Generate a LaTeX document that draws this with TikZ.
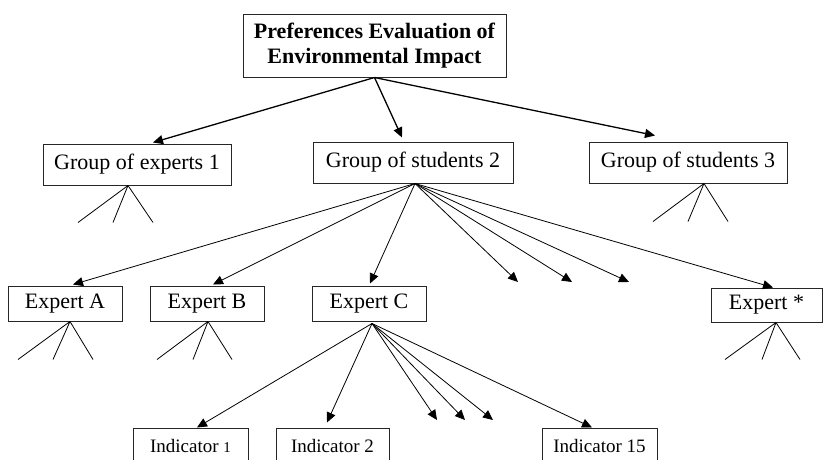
\documentclass[tikz,border=0pt]{standalone}
\usepackage{fontspec}
\setmainfont{Liberation Serif}
\usetikzlibrary{arrows.meta}
\begin{document}
\begin{tikzpicture}[x=1pt,y=-1pt,
  box/.style={draw=black!85,line width=1pt,inner sep=0pt,
    font=\fontsize{22}{25}\selectfont},
  indbox/.style={draw=black!85,line width=1pt,inner sep=0pt,
    font=\fontsize{19}{22}\selectfont,minimum width=115pt,minimum height=36pt},
  bigarr/.style={line width=1.3pt,-{Triangle[length=10pt,width=9pt]}},
  arr/.style={line width=0.8pt,-{Triangle[length=10pt,width=9pt]}},
  fork/.style={line width=0.8pt}]
\useasboundingbox (0,0) rectangle (823,459);
\clip (0,0) rectangle (823,459);

% root
\node[box,font=\fontsize{22}{25}\selectfont\bfseries,align=center,
  minimum width=263pt,minimum height=63pt] (top) at (374.5,45.5)
  {Preferences Evaluation of\\Environmental Impact};

% groups
\node[box,minimum width=188pt,minimum height=41pt] (g1) at (137,164.5) {Group of experts 1};
\node[box,minimum width=200pt,minimum height=41pt] (g2) at (413,162.5) {Group of students 2};
\node[box,minimum width=198pt,minimum height=41pt] (g3) at (688,162.5) {Group of students 3};

% experts
\node[box,minimum width=114pt,minimum height=35pt] (ea) at (65,303.5) {Expert A};
\node[box,minimum width=114pt,minimum height=35pt] (eb) at (207,303.5) {Expert B};
\node[box,minimum width=114pt,minimum height=35pt] (ec) at (369,303.5) {Expert C};
\node[box,minimum width=111pt,minimum height=34pt] (es) at (766.5,305) {Expert *};

% indicators
\node[indbox] (i1) at (190.5,446) {Indicator {\fontsize{15}{18}\selectfont 1}};
\node[indbox,minimum width=113pt] (i2) at (332.5,446) {Indicator 2};
\node[indbox] (i15) at (599.5,446) {Indicator 15};

% open ends of the arrows that stand for further members
\coordinate (gx1) at (518,282);
\coordinate (gx2) at (572,282);
\coordinate (gx3) at (629,282);
\coordinate (ix1) at (437,420);
\coordinate (ix2) at (465,420);
\coordinate (ix3) at (493,420);

% root to groups
\draw[bigarr] (top.south) -- ([xshift=16pt,yshift=1pt]g1.north);
\draw[bigarr] (top.south) -- ([xshift=-11pt,yshift=4pt]g2.north);
\draw[bigarr] (top.south) -- ([xshift=-33pt,yshift=6pt]g3.north);

% group 2 to experts
\coordinate (g2s) at ([xshift=2pt]g2.south);
\draw[arr] (g2s) -- ([xshift=8pt,yshift=1pt]ea.north);
\draw[arr] (g2s) -- ([xshift=6pt,yshift=1pt]eb.north);
\draw[arr] (g2s) -- ([xshift=1pt,yshift=2pt]ec.north);
\draw[arr] (g2s) -- (gx1);
\draw[arr] (g2s) -- (gx2);
\draw[arr] (g2s) -- (gx3);
\draw[arr] (g2s) -- ([xshift=6.5pt]es.north);

% expert C to indicators
\coordinate (ecs) at ([xshift=3pt,yshift=-2pt]ec.south);
\draw[arr] (ecs) -- ([xshift=6.5pt]i1.north);
\draw[arr] (ecs) -- ([xshift=-5.5pt,yshift=5pt]i2.north);
\draw[arr] (ecs) -- (ix1);
\draw[arr] (ecs) -- (ix2);
\draw[arr] (ecs) -- (ix3);
\draw[arr] (ecs) -- ([xshift=-7.5pt]i15.north);

% unexpanded branches
\foreach \n/\dx/\ax/\bx/\cx/\dy in {g1/-9/-50/-15/25/37, g3/16/-51/-16/24/38,
    ea/5/-52/-17/23/38, eb/1/-51/-15/24/38, es/9.5/-51/-14/24/37}{
  \draw[fork] ([xshift=\dx pt]\n.south) -- ++(\ax,\dy)
              ([xshift=\dx pt]\n.south) -- ++(\bx,\dy)
              ([xshift=\dx pt]\n.south) -- ++(\cx,\dy);
}
\end{tikzpicture}
\end{document}
